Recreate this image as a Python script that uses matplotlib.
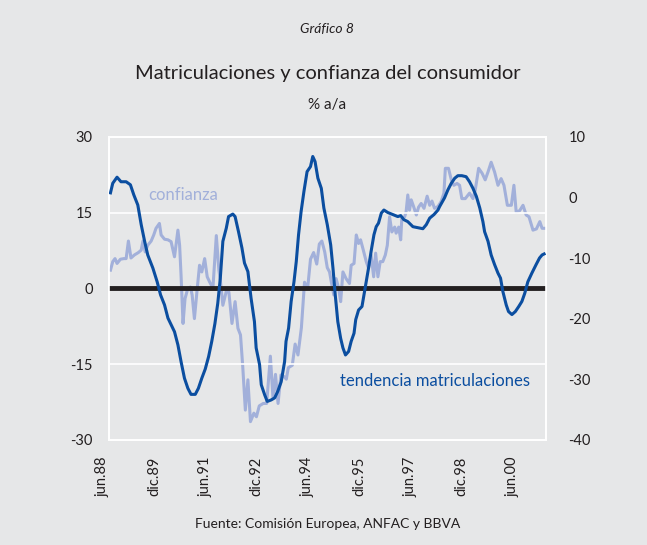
import matplotlib
matplotlib.use("Agg")
import matplotlib.pyplot as plt

# months counted from jan 1988 (jun.88 = 5)
tick_pos = [5, 23, 41, 59, 77, 95, 113, 131, 149]
tick_labels = ["jun.88", "dic.89", "jun.91", "dic.92", "jun.94",
               "dic.95", "jun.97", "dic.98", "jun.00"]

# tendencia matriculaciones (% a/a, left axis)
matric_m = [5.2, 6.0, 7.5, 8.9, 10.7, 12.2, 13.4, 14.8, 16.0, 17.2, 18.3, 20.1,
            21.6, 22.8, 24.2, 25.4, 26.5, 27.7, 28.9, 30.0, 31.2, 32.4, 33.5,
            35.0, 36.1, 37.3, 38.5, 39.7, 40.8, 41.9, 42.9, 43.8, 44.7, 45.9,
            46.7, 48.2, 49.0, 50.2, 51.4, 52.3, 53.5, 54.6, 55.8, 56.4, 57.6,
            58.2, 59.4, 60.3, 61.7, 62.9, 64.0, 65.2, 66.4, 66.9, 67.8, 68.7,
            69.7, 70.5, 71.3, 72.2, 73.2, 74.3, 75.5, 76.3, 77.1, 78.1, 79.3,
            80.2, 81.4, 82.6, 83.4, 84.2, 85.1, 86.1, 86.9, 87.8, 88.9, 89.8,
            90.8, 91.4, 92.4, 93.6, 94.3, 95.1, 95.9, 96.8, 97.8, 98.6, 99.4,
            100.4, 101.3, 102.7, 104.5, 106.2, 107.2, 108.3, 109.7, 111.5,
            113.3, 115.0, 116.2, 117.4, 118.9, 120.3, 120.9, 122.6, 123.8,
            125.0, 126.2, 127.3, 128.7, 130.2, 131.4, 132.6, 133.8, 135.0,
            136.1, 136.7, 137.9, 139.0, 140.2, 141.4, 142.3, 143.1, 144.3,
            145.1, 146.3, 147.5, 148.7, 149.8, 150.8, 151.9, 153.3, 154.8,
            156.0, 156.9, 157.6]
matric_v = [18.9, 20.8, 22.0, 21.1, 21.1, 20.5, 18.5, 16.5, 12.6, 9.3, 6.6, 4.0,
            1.3, -1.3, -3.3, -5.9, -7.2, -8.6, -11.2, -14.5, -17.8, -19.8, -21.0,
            -21.0, -19.8, -17.8, -16.0, -13.5, -10.5, -7.0, -3.0, 2.0, 9.3, 11.9,
            14.2, 14.7, 14.2, 11.2, 8.0, 5.0, 3.3, -1.9, -6.6, -11.8, -15.1,
            -19.1, -21.1, -22.4, -22.1, -21.7, -20.4, -18.5, -14.5, -10.5, -7.9, -2.6,
            1.3, 5.3, 10.6, 15.2, 19.2, 23.1, 24.1, 26.1, 25.1, 21.8, 19.8,
            15.9, 12.6, 8.6, 4.0, -1.3, -6.6, -9.9, -11.8, -13.2, -12.5, -10.5,
            -8.9, -6.2, -4.3, -3.6, -1.3, 1.3, 4.0, 7.3, 10.6, 12.2, 12.9,
            14.9, 15.5, 15.0, 14.6, 14.2, 14.4, 13.6, 13.2, 12.2,
            12.0, 11.8, 12.6, 13.9, 14.6, 15.5, 16.2, 17.9, 19.5,
            20.8, 21.8, 22.3, 22.3, 22.1, 21.1, 19.8, 18.2, 15.9,
            13.2, 11.2, 9.3, 6.6, 4.7, 3.0, 2.0, -0.6, -3.3,
            -4.6, -5.2, -4.6, -3.6, -2.6, -1.0, 1.3, 3.0, 4.7,
            6.0, 6.6, 6.8]

# confianza del consumidor (right axis)
conf_m = [5.2, 6.0, 6.8, 7.5, 8.7, 9.9, 10.7, 11.5, 12.4, 13.6, 15.0, 16.0, 16.6,
          17.4, 18.3, 19.5, 20.4, 21.2, 22.4, 23.0, 24.2, 25.4, 26.5, 27.7, 28.9,
          29.5, 30.0, 30.7, 31.4, 32.4, 33.3, 33.9, 34.7, 35.7, 36.5, 37.3, 38.3,
          39.2, 40.0, 41.2, 42.4, 43.3, 43.8, 44.7, 45.9, 46.8, 47.9, 49.0, 50.0,
          50.9, 51.7, 52.6, 53.5, 54.4, 55.6, 56.5, 57.5, 58.9, 60.1, 61.4, 62.3,
          63.2, 64.1, 65.1, 66.3, 67.0, 67.7, 69.1, 70.1, 71.1, 72.3, 73.4, 74.5,
          75.5, 76.6, 77.7, 78.6, 79.5, 80.5, 81.4, 82.2, 82.8, 83.7, 84.5, 85.4,
          86.1, 86.9, 88.0, 89.2, 89.8, 90.8, 91.6, 92.4, 93.1, 93.9, 95.1, 95.9,
          96.8, 97.7, 98.4, 99.2, 100.0, 100.9, 101.8, 102.5, 103.3, 104.1, 105.1,
          105.6, 106.5, 107.2, 107.6, 108.6, 109.1, 109.7, 110.3, 110.9, 111.8,
          112.7, 113.5, 114.4, 115.4, 116.5, 117.4, 118.2, 119.1, 120.3, 121.4,
          122.4, 122.9, 124.0, 125.0, 125.9, 127.0, 127.9, 128.7, 129.9, 131.4,
          132.6, 133.4, 134.6, 135.8, 136.9, 137.9, 139.0, 140.2, 141.4, 142.5,
          143.5, 144.7, 146.1, 147.0, 147.8, 149.0, 150.2, 151.3, 152.3, 153.7,
          154.9, 156.1, 156.9, 157.8]
conf_v = [-12.0, -10.6, -10.1, -10.9, -10.2, -10.1, -10.1, -7.2, -10.0, -9.5, -9.1,
          -8.7, -7.2, -9.0, -7.9, -7.2, -6.2, -5.1, -4.3, -6.2, -6.9, -7.0, -7.3,
          -9.8, -5.4, -7.9, -12.8, -20.8, -16.7, -15.0, -14.8, -16.1, -20.0, -15.0,
          -11.2, -12.3, -10.1, -13.1, -13.9, -15.0, -6.3, -12.0, -13.6, -17.8,
          -15.5, -15.6, -20.8, -17.2, -21.6, -22.7, -28.0, -35.1, -30.1, -37.0,
          -35.6, -36.2, -34.4, -34.0, -34.0, -26.2, -33.0, -29.2, -34.0, -29.3,
          -29.6, -30.0, -28.1, -27.7, -24.2, -26.0, -21.5, -14.0, -15.0, -10.2,
          -9.1, -11.0, -7.7, -7.2, -9.0, -11.6, -12.3, -13.9, -16.1, -13.4, -15.0,
          -17.2, -12.3, -13.4, -14.2, -11.2, -10.9, -6.2, -7.6, -7.0, -8.4, -10.6,
          -11.7, -9.5, -13.1, -9.2, -13.1, -10.6, -10.6, -9.5, -7.9, -3.2, -5.7,
          -4.9, -5.9, -4.9, -7.0, -3.5, -3.2, -2.4, 0.4, -2.1, -0.4, -1.6, -2.9,
          -1.6, -1.0, -1.8, 0.2, -1.3, -0.6, -1.8, -1.5, -0.7, 0.7, 4.8, 4.8, 2.9,
          2.0, 2.3, 2.0, -0.2, -0.2, 0.7, -0.2, 1.2, 4.8, 4.0, 2.9, 4.2, 5.8, 4.2,
          2.0, 3.1, 2.0, -1.3, -1.3, 2.0, -2.4, -2.2, -1.3, -2.9, -3.2, -5.4,
          -5.2, -4.0, -5.1, -5.1]

bg = "#E6E7E8"
dark = "#0B4EA0"
light = "#A2B0DA"
txt = "#231F20"

plt.rcParams['font.family'] = ['Lato', 'DejaVu Sans']

fig = plt.figure(figsize=(6.47, 5.45), dpi=100, facecolor=bg)
ax = fig.add_axes([0.169, 0.193, 0.675, 0.556], facecolor=bg)
ax2 = ax.twinx()

ax.set_xlim(4.8, 158.3)
ax.set_ylim(-30, 30)
ax2.set_ylim(-40, 10)

for y in [15, -15]:
    ax.axhline(y, color="white", lw=1.2, zorder=1)
ax.axhline(0, color=txt, lw=3.5, zorder=2)

# light series on the twin axis, drawn below the dark one
ax2.plot(conf_m, conf_v, color=light, lw=2.2, zorder=3)
ax.plot(matric_m, matric_v, color=dark, lw=2.2, zorder=4)
ax2.set_zorder(0)
ax.set_zorder(1)
ax.patch.set_visible(False)
ax2.patch.set_facecolor(bg)

for a in (ax, ax2):
    for s in a.spines.values():
        s.set_color("white")
        s.set_linewidth(1.2)

ax.set_yticks([30, 15, 0, -15, -30])
ax.set_yticklabels(["30", "15", "0", "-15", "-30"])
ax2.set_yticks([10, 0, -10, -20, -30, -40])
ax2.set_yticklabels(["10", "0", "-10", "-20", "-30", "-40"])
ax.tick_params(axis="y", length=0, pad=12, labelsize=10.5, labelcolor=txt)
ax2.tick_params(axis="y", length=0, pad=16, labelsize=10.5, labelcolor=txt)

ax.set_xticks(tick_pos)
ax.set_xticklabels(tick_labels, rotation=90, ha="right", va="top")
ax.tick_params(axis="x", length=0, pad=12, labelsize=10.5, labelcolor=txt)

ax.text(18.4, 18.5, "confianza", color=light, fontsize=12, ha="left", va="center")
ax.text(85.9, -18.3, "tendencia matriculaciones", color=dark, fontsize=12,
        ha="left", va="center")

fig.text(0.506, 0.946, "Gráfico 8", style="italic", fontsize=10, color=txt,
         ha="center", va="center")
fig.text(0.506, 0.866, "Matriculaciones y confianza del consumidor", fontsize=14.5,
         color=txt, ha="center", va="center")
fig.text(0.506, 0.808, "% a/a", fontsize=11, color=txt, ha="center", va="center")
fig.text(0.506, 0.038, "Fuente: Comisión Europea, ANFAC y BBVA", fontsize=10,
         color=txt, ha="center", va="center")

fig.savefig("out.png", dpi=100, facecolor=bg)
